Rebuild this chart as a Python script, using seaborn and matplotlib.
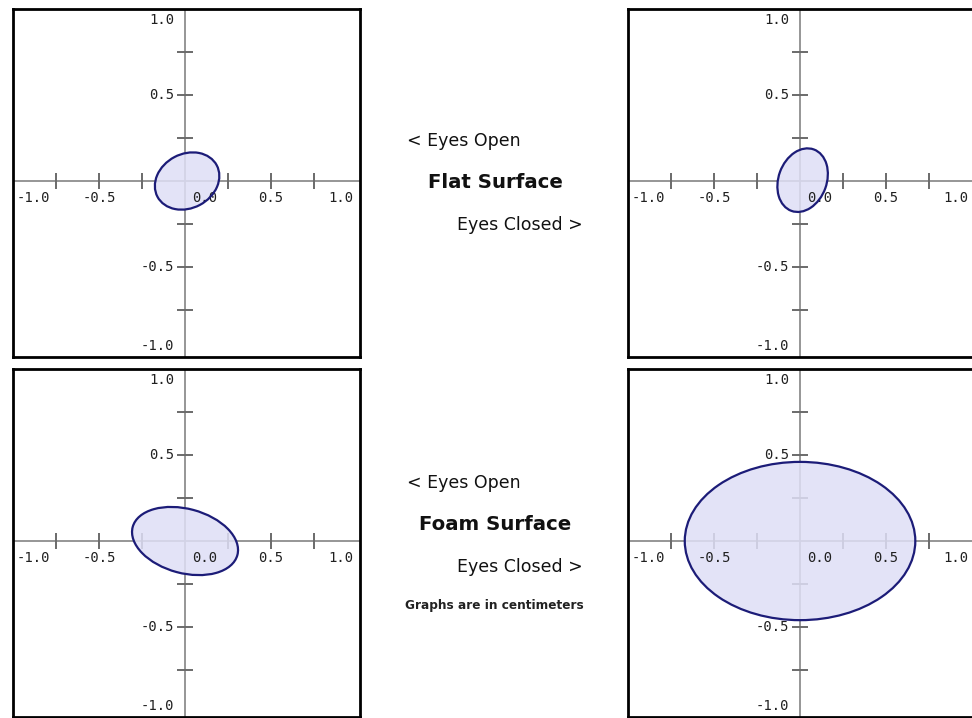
import matplotlib
matplotlib.use("Agg")
import matplotlib.pyplot as plt
from matplotlib.patches import Ellipse
import seaborn as sns

# Sway ellipses (cm): flat / foam surface, eyes open / eyes closed
surfaces = ["Flat Surface", "Foam Surface"]
conditions = ["< Eyes Open", "Eyes Closed >"]
center_x = [0.012, 0.015, 0.0, 0.0]
center_y = [0.0, 0.005, 0.0, 0.0]
width = [0.39, 0.38, 0.63, 1.34]     # full length of major axis
height = [0.315, 0.28, 0.374, 0.92]  # full length of minor axis
angle = [28, 70, -15, 0]             # degrees, counter-clockwise

tick_marks = [-0.75, -0.5, -0.25, 0.25, 0.5, 0.75]
x_tick_vals = [-1.0, -0.5, 0.0, 0.5, 1.0]
x_tick_text = ["-1.0", "-0.5", "0.0", "0.5", "1.0"]
y_tick_vals = [1.0, 0.5, -0.5, -1.0]
y_tick_text = ["1.0", "0.5", "-0.5", "-1.0"]
footnote = "Graphs are in centimeters"

sns.set_theme(style="white")
plt.rcParams["font.family"] = ["DejaVu Sans"]

W, H = 972, 718
fig = plt.figure(figsize=(W / 100, H / 100), dpi=100)

# panel frames in pixels: (left, top)
frames = [(13, 9), (628, 9), (13, 369), (628, 369)]
pw, ph = 347, 348

AXIS_GRAY = "#8e8e8e"
TICK_GRAY = "#6a6a6a"
EDGE = "#1c1c78"
FILL = (0.875, 0.875, 0.965, 0.85)
mono = "DejaVu Sans Mono"

# label placement tweaks along the x axis (inner labels nudged)
x_label_pos = {-1.0: -0.88, -0.5: -0.5, 0.0: 0.115, 0.5: 0.5, 1.0: 0.905}
y_label_pos = {1.0: 0.935, 0.5: 0.5, -0.5: -0.5, -1.0: -0.958}

for i, (l, t) in enumerate(frames):
    ax = fig.add_axes([l / W, 1 - (t + ph) / H, pw / W, ph / H])
    ax.set_xlim(-1.0, 1.017)
    ax.set_ylim(-1.023, 1.0)
    ax.set_xticks([])
    ax.set_yticks([])
    for s in ax.spines.values():
        s.set_color("black")
        s.set_linewidth(2.0)

    # cross-hair axes through the origin
    ax.axhline(0, color=AXIS_GRAY, lw=1.3, zorder=1)
    ax.axvline(0, color=AXIS_GRAY, lw=1.3, zorder=1)
    for m in tick_marks:
        ax.plot([m, m], [-0.048, 0.048], color=TICK_GRAY, lw=1.4, zorder=1,
                solid_capstyle="butt")
        ax.plot([-0.046, 0.046], [m, m], color=TICK_GRAY, lw=1.4, zorder=1,
                solid_capstyle="butt")

    # tick labels
    for v, txt in zip(x_tick_vals, x_tick_text):
        ax.text(x_label_pos[v], -0.1, txt, ha="center", va="center",
                fontsize=10, family=mono, color="#202020", zorder=3)
    for v, txt in zip(y_tick_vals, y_tick_text):
        ax.text(-0.062, y_label_pos[v], txt, ha="right", va="center",
                fontsize=10, family=mono, color="#202020", zorder=3)

    # ellipse: translucent fill below the labels, outline on top
    ax.add_patch(Ellipse((center_x[i], center_y[i]), width[i], height[i],
                         angle=angle[i], facecolor=FILL, edgecolor="none",
                         zorder=2))
    ax.add_patch(Ellipse((center_x[i], center_y[i]), width[i], height[i],
                         angle=angle[i], facecolor="none", edgecolor=EDGE,
                         lw=1.6, zorder=4))

# centre captions
def px(x, y):
    return x / W, 1 - y / H

for row, surface in enumerate(surfaces):
    y0 = 141 if row == 0 else 483
    fig.text(*px(407, y0), conditions[0], ha="left", va="center",
             fontsize=12.5, color="#111111")
    fig.text(*px(495, y0 + 42), surface, ha="center", va="center",
             fontsize=14.2, fontweight="bold", color="#111111")
    fig.text(*px(583, y0 + 84), conditions[1], ha="right", va="center",
             fontsize=12.5, color="#111111")

fig.text(*px(494, 605), footnote, ha="center", va="center",
         fontsize=8.7, fontweight="bold", color="#222222")

fig.savefig("out.png", dpi=100)
